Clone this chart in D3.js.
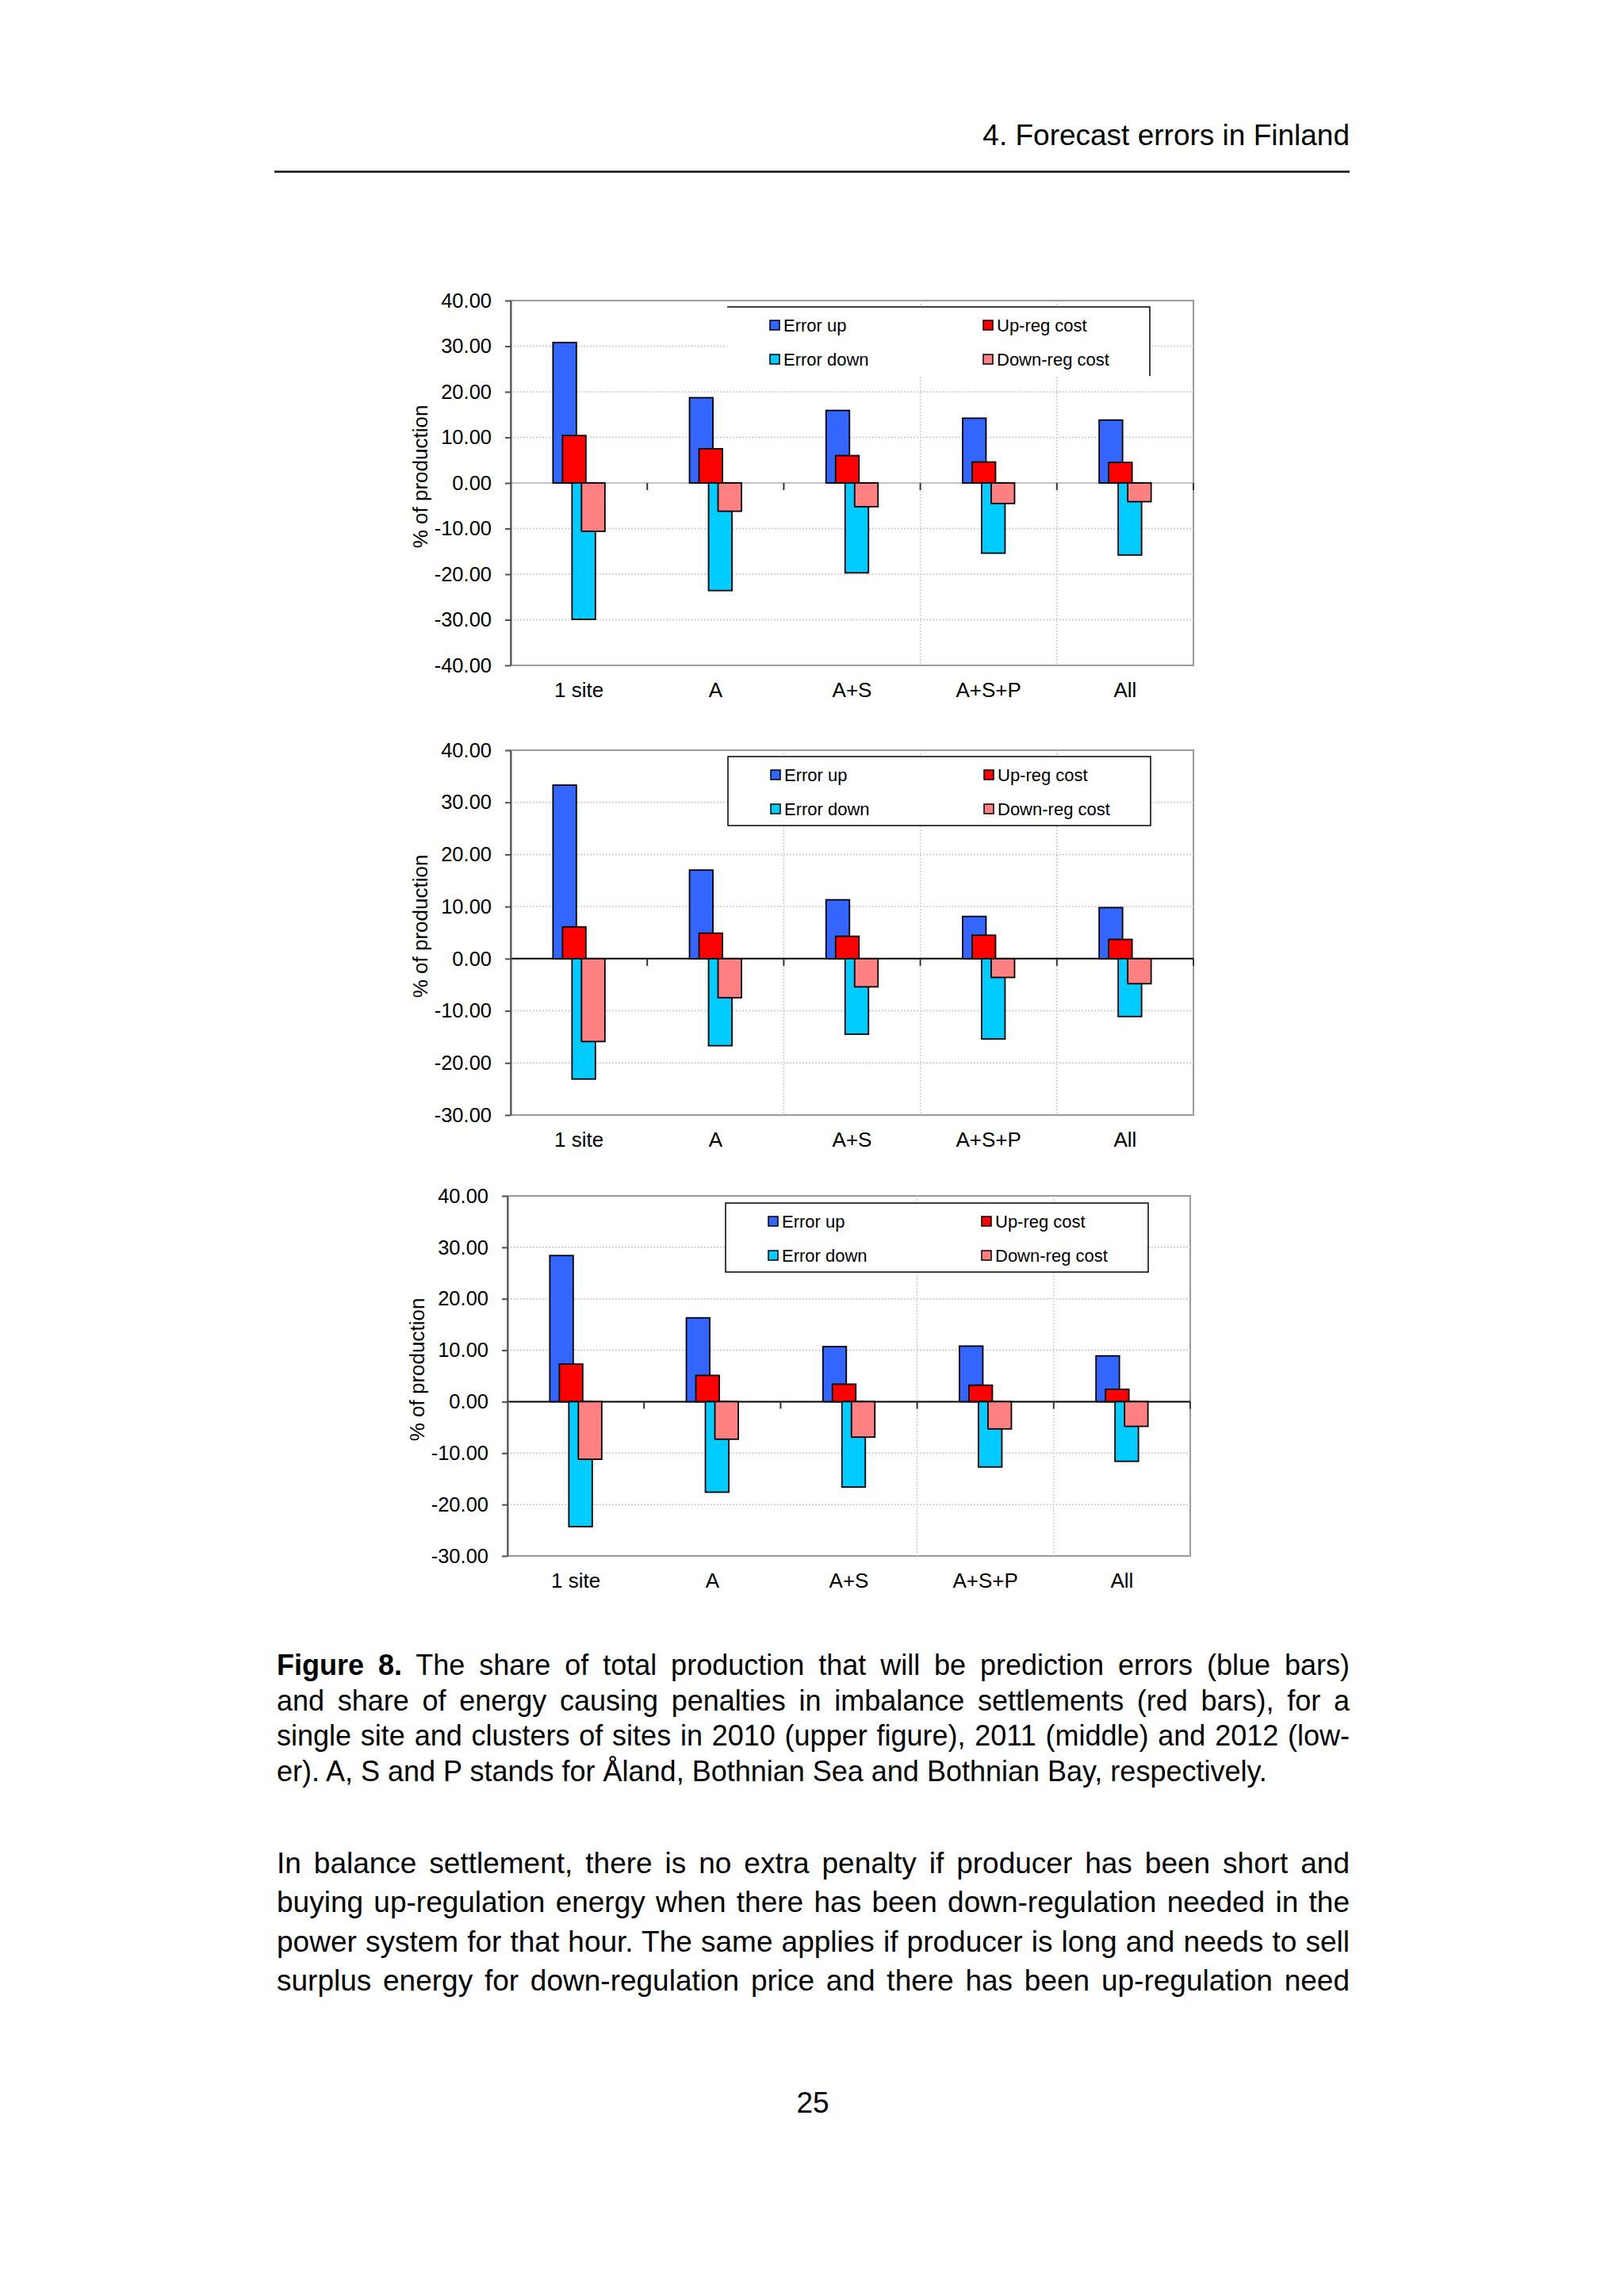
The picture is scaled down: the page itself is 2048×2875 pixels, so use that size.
<!DOCTYPE html>
<html lang="en">
<head>
<meta charset="UTF-8">
<title>Figure 8 - Forecast errors in Finland</title>
<script src="https://d3js.org/d3.v7.min.js"></script>
<style>
  body { margin: 0; background: #fff; font-family: "Liberation Sans", Arial, sans-serif; }
  #page { position: relative; width: 2048px; height: 2875px; overflow: hidden; background: #fff; }
  #page svg { position: absolute; left: 0; top: 0; }
  .line { position: absolute; left: 349px; width: 1353px; font-size: 37px; line-height: 45px;
          text-align: justify; text-align-last: justify; color: #000; }
  .line.caption { font-size: 36px; }
  .line.last { text-align-last: left; }
</style>
</head>
<body>
<div id="page"></div>

<script>
  // categories and series (% of production)
  const categories = ["1 site", "A", "A+S", "A+S+P", "All"];
  const seriesNames = ["Error up", "Up-reg cost", "Error down", "Down-reg cost"];
  const seriesColors = ["#3366ff", "#ff0000", "#00ccff", "#ff8080"];

  // 2010 (upper figure)
  const errorUp2010   = [30.8, 18.7, 15.9, 14.2, 13.8];
  const upReg2010     = [10.4, 7.5, 6.0, 4.6, 4.5];
  const errorDown2010 = [-29.9, -23.6, -19.7, -15.4, -15.8];
  const downReg2010   = [-10.6, -6.2, -5.2, -4.5, -4.1];

  // 2011 (middle)
  const errorUp2011   = [33.3, 17.0, 11.3, 8.1, 9.8];
  const upReg2011     = [6.1, 4.9, 4.3, 4.5, 3.7];
  const errorDown2011 = [-23.1, -16.7, -14.5, -15.4, -11.1];
  const downReg2011   = [-15.9, -7.5, -5.4, -3.6, -4.8];

  // 2012 (lower)
  const errorUp2012   = [28.4, 16.3, 10.7, 10.8, 8.9];
  const upReg2012     = [7.3, 5.1, 3.4, 3.2, 2.4];
  const errorDown2012 = [-24.3, -17.6, -16.6, -12.7, -11.6];
  const downReg2012   = [-11.2, -7.3, -6.9, -5.3, -4.8];

  const yTicks2010 = [40, 30, 20, 10, 0, -10, -20, -30, -40];
  const yTicks2011 = [40, 30, 20, 10, 0, -10, -20, -30];
  const yTicks2012 = [40, 30, 20, 10, 0, -10, -20, -30];

  const yTitle = "% of production";
  const headerText = "4. Forecast errors in Finland";
  const pageNumber = "25";

  const captionLines = [
    "<b>Figure 8.</b> The share of total production that will be prediction errors (blue bars)",
    "and share of energy causing penalties in imbalance settlements (red bars), for a",
    "single site and clusters of sites in 2010 (upper figure), 2011 (middle) and 2012 (low-",
    "er). A, S and P stands for Åland, Bothnian Sea and Bothnian Bay, respectively."
  ];
  const bodyLines = [
    "In balance settlement, there is no extra penalty if producer has been short and",
    "buying up-regulation energy when there has been down-regulation needed in the",
    "power system for that hour. The same applies if producer is long and needs to sell",
    "surplus energy for down-regulation price and there has been up-regulation need"
  ];

  // layout of the three panels; vgrid = category boundaries that show a dotted line
  const panels = [
    { series: [errorUp2010, upReg2010, errorDown2010, downReg2010], yTicks: yTicks2010,
      l: 644, r: 1505, t: 379, b: 839, zeroColor: "#c4c4c4", legendOpen: true, lx: 917, ly: 387,
      vgrid: ["A+S+P", "All"] },
    { series: [errorUp2011, upReg2011, errorDown2011, downReg2011], yTicks: yTicks2011,
      l: 644, r: 1505, t: 946, b: 1406, zeroColor: "#000", legendOpen: false, lx: 918, ly: 954,
      vgrid: ["A+S", "A+S+P", "All"] },
    { series: [errorUp2012, upReg2012, errorDown2012, downReg2012], yTicks: yTicks2012,
      l: 640, r: 1501, t: 1508, b: 1962, zeroColor: "#000", legendOpen: false, lx: 915, ly: 1517,
      vgrid: ["A+S+P", "All"] }
  ];

  const page = d3.select("#page");
  const svg = page.append("svg").attr("width", 2048).attr("height", 2875);

  const fmt = d3.formatLocale({ decimal: ".", thousands: ",", grouping: [3], currency: ["", ""], minus: "-" }).format(".2f");
  const font = "'Liberation Sans', Arial, sans-serif";

  // page header
  svg.append("text")
    .attr("x", 1702).attr("y", 183)
    .attr("text-anchor", "end")
    .attr("font-family", font).attr("font-size", 37)
    .text(headerText);
  svg.append("line")
    .attr("x1", 346).attr("x2", 1702).attr("y1", 216.5).attr("y2", 216.5)
    .attr("stroke", "#111").attr("stroke-width", 2.5);

  const barW = 29.5;

  panels.forEach(p => {
    const g = svg.append("g");
    const x = d3.scaleBand().domain(categories).range([p.l, p.r]);
    const y = d3.scaleLinear().domain(d3.extent(p.yTicks)).range([p.b, p.t]);
    const off = d3.scalePoint().domain(seriesNames).range([-18, 18]);

    // plot frame
    g.append("rect")
      .attr("x", p.l).attr("y", p.t)
      .attr("width", p.r - p.l).attr("height", p.b - p.t)
      .attr("fill", "#fff").attr("stroke", "#9a9a9a").attr("stroke-width", 2);

    // dotted grid
    const [ymin, ymax] = d3.extent(p.yTicks);
    g.selectAll(".hgrid")
      .data(p.yTicks.filter(v => v !== 0 && v !== ymin && v !== ymax))
      .enter().append("line")
      .attr("x1", p.l).attr("x2", p.r)
      .attr("y1", d => y(d)).attr("y2", d => y(d))
      .attr("stroke", "#c8c8c8").attr("stroke-width", 1.5)
      .attr("stroke-dasharray", "2,2");

    g.selectAll(".vgrid")
      .data(p.vgrid)
      .enter().append("line")
      .attr("x1", d => x(d)).attr("x2", d => x(d))
      .attr("y1", p.t).attr("y2", p.b)
      .attr("stroke", "#cccccc").attr("stroke-width", 1.5)
      .attr("stroke-dasharray", "2,2");

    // zero line with ticks between categories
    g.append("line")
      .attr("x1", p.l).attr("x2", p.r)
      .attr("y1", y(0)).attr("y2", y(0))
      .attr("stroke", p.zeroColor).attr("stroke-width", 2);
    g.selectAll(".ztick")
      .data(categories.slice(1).map(c => x(c)).concat([p.r]))
      .enter().append("line")
      .attr("x1", d => d).attr("x2", d => d)
      .attr("y1", y(0)).attr("y2", y(0) + 9)
      .attr("stroke", "#333").attr("stroke-width", 2);

    // bars
    seriesNames.forEach((name, i) => {
      g.selectAll(null)
        .data(categories.map((c, j) => ({ c, v: p.series[i][j] })))
        .enter().append("rect")
        .attr("x", d => x(d.c) + x.bandwidth() / 2 + off(name) - barW / 2)
        .attr("y", d => y(Math.max(0, d.v)))
        .attr("width", barW)
        .attr("height", d => Math.abs(y(d.v) - y(0)))
        .attr("fill", seriesColors[i])
        .attr("stroke", "#000").attr("stroke-width", 1.8);
    });

    // y axis
    const yAxis = g.append("g")
      .attr("transform", `translate(${p.l},0)`)
      .call(d3.axisLeft(y).tickValues(p.yTicks).tickFormat(fmt).tickSize(7).tickSizeOuter(0).tickPadding(17));
    yAxis.select(".domain").attr("stroke", "#505050").attr("stroke-width", 2);
    yAxis.selectAll(".tick line").attr("stroke", "#505050").attr("stroke-width", 2);
    yAxis.selectAll("text").attr("font-family", font).attr("font-size", 25.5).attr("fill", "#000");

    // category labels
    const xAxis = g.append("g")
      .attr("transform", `translate(0,${p.b})`)
      .call(d3.axisBottom(x).tickSize(0).tickPadding(22));
    xAxis.select(".domain").remove();
    xAxis.selectAll("text").attr("font-family", font).attr("font-size", 26).attr("fill", "#000");

    // y title
    g.append("text")
      .attr("transform", `translate(${p.l - 114},${(p.t + p.b) / 2 - 8}) rotate(-90)`)
      .attr("text-anchor", "middle").attr("dy", "0.35em")
      .attr("font-family", font).attr("font-size", 26)
      .text(yTitle);

    // legend
    const lw = 533, lh = 87;
    const lg = g.append("g").attr("transform", `translate(${p.lx},${p.ly})`);
    lg.append("rect").attr("width", lw).attr("height", lh).attr("fill", "#fff")
      .attr("stroke", p.legendOpen ? "none" : "#000").attr("stroke-width", 1.5);
    if (p.legendOpen) {
      lg.append("path").attr("d", `M0,0H${lw}V${lh}`).attr("fill", "none")
        .attr("stroke", "#000").attr("stroke-width", 1.5);
    }
    const order = [0, 2, 1, 3]; // column-wise: Error up, Error down | Up-reg, Down-reg
    order.forEach((si, k) => {
      const col = Math.floor(k / 2), row = k % 2;
      const ex = 54 + col * 269, ey = 23 + row * 43;
      lg.append("rect")
        .attr("x", ex).attr("y", ey - 6).attr("width", 12).attr("height", 12)
        .attr("fill", seriesColors[si]).attr("stroke", "#000").attr("stroke-width", 1.5);
      lg.append("text")
        .attr("x", ex + 17).attr("y", ey).attr("dy", "0.35em")
        .attr("font-family", font).attr("font-size", 22)
        .text(seriesNames[si]);
    });
  });

  // caption and body text (baselines)
  const captionBase = [2112, 2157, 2201, 2246];
  captionLines.forEach((t, i) => {
    page.append("div")
      .attr("class", "line caption" + (i === captionLines.length - 1 ? " last" : ""))
      .style("top", (captionBase[i] - 35) + "px")
      .html(t);
  });
  const bodyBase = [2362, 2411, 2461, 2510];
  bodyLines.forEach((t, i) => {
    page.append("div")
      .attr("class", "line")
      .style("top", (bodyBase[i] - 35) + "px")
      .text(t);
  });

  svg.append("text")
    .attr("x", 1025).attr("y", 2664)
    .attr("text-anchor", "middle")
    .attr("font-family", font).attr("font-size", 37)
    .text(pageNumber);
</script>
</body>
</html>
